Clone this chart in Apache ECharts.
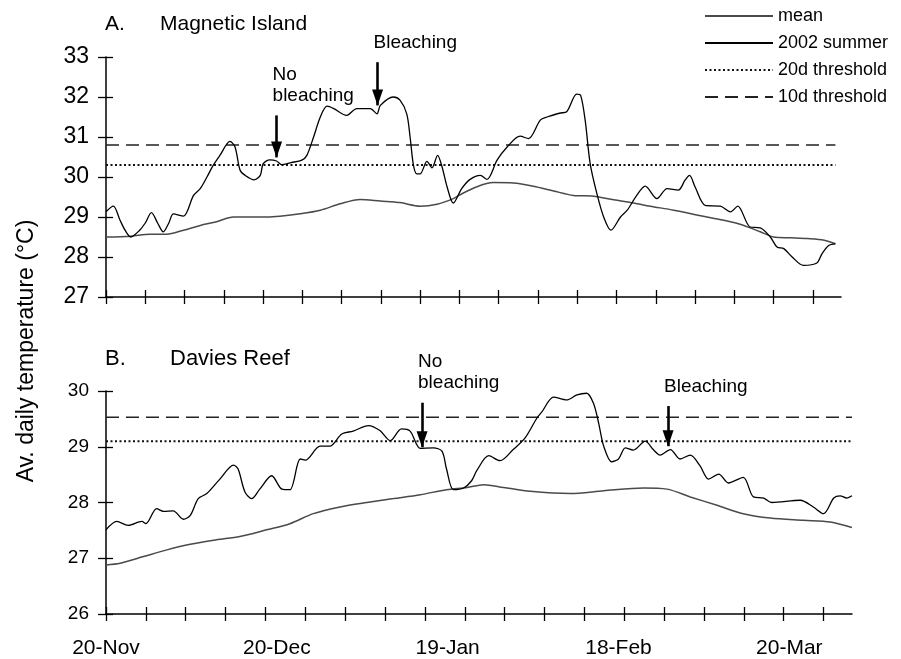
<!DOCTYPE html>
<html>
<head>
<meta charset="utf-8">
<title>Av. daily temperature — Magnetic Island and Davies Reef</title>
<script src="https://cdn.jsdelivr.net/npm/echarts@6/dist/echarts.min.js"></script>
<style>
  html, body { margin: 0; padding: 0; background: #fff; }
  #chart { width: 901px; height: 659px; }
</style>
</head>
<body>
<div id="chart"></div>
<script>
// Day index 0 = 20-Nov; one category per day through the end of March.
const dayMax = 131;
const weekStep = 7;
const dateLabels = ['20-Nov', '20-Dec', '19-Jan', '18-Feb', '20-Mar'];
const labelStep = 30;

// A. Magnetic Island — [day, °C]
const magneticSummer = [
  [0, 29.13], [1.3, 29.27], [2.5, 28.92], [3.4, 28.67], [4.4, 28.5], [6, 28.67], [7, 28.85],
  [8.1, 29.11], [9.2, 28.85], [10.2, 28.63], [11.2, 28.85], [12, 29.08], [13.8, 29.02],
  [15.6, 29.54], [16.8, 29.71], [18, 30.0], [19.1, 30.29], [20.3, 30.54], [22.1, 30.89],
  [23, 30.75], [23.9, 30.17], [24.8, 30.04], [26.4, 29.93], [27.5, 30.04], [28, 30.33],
  [29.2, 30.43], [30.4, 30.4], [31.3, 30.31], [33, 30.36], [34.9, 30.42], [35.8, 30.54],
  [37, 31.0], [38.2, 31.5], [39.4, 31.77], [40.6, 31.71], [42.9, 31.54], [44.7, 31.71],
  [47.1, 31.71], [48.3, 31.58], [48.9, 31.79], [51.2, 32.0], [52.4, 31.92], [53.6, 31.58],
  [54.2, 31.0], [54.8, 30.29], [55.4, 30.08], [56, 30.08], [57.2, 30.39], [58.1, 30.23],
  [59.1, 30.54], [59.9, 30.25], [60.8, 29.75], [61.9, 29.35], [63.4, 29.71], [64.9, 29.94],
  [66.7, 30.04], [67.9, 29.94], [69.7, 30.42], [71.5, 30.75], [73.8, 31.02], [75.3, 30.96],
  [77.4, 31.42], [78.6, 31.5], [81, 31.6], [82.1, 31.63], [83.9, 32.07], [84.6, 32.04],
  [85.4, 31.42], [86.3, 30.33], [87.5, 29.58], [88.7, 29.0], [90, 28.67], [91.7, 29.0],
  [92.9, 29.17], [94.6, 29.54], [96.1, 29.77], [98.2, 29.46], [100, 29.71], [102, 29.67],
  [103.2, 29.92], [104, 30.04], [105, 29.75], [106.8, 29.29], [109.5, 29.27], [111.3, 29.13],
  [112.6, 29.27], [114.8, 28.75], [116.6, 28.73], [118.4, 28.5], [119.6, 28.25], [120.8, 28.21],
  [122.3, 28.0], [124.3, 27.79], [126.7, 27.85], [127.6, 28.08], [128.8, 28.29], [130, 28.33]
];
const magneticMean = [
  [0, 28.5], [4.4, 28.52], [7.8, 28.57], [10.8, 28.57], [13.8, 28.67], [16.8, 28.79],
  [19.7, 28.88], [22.7, 29.0], [28.7, 29.0], [31, 29.02], [34.6, 29.08], [38.2, 29.17],
  [41.7, 29.33], [45.3, 29.44], [48.9, 29.4], [52.4, 29.36], [56, 29.27], [59, 29.32],
  [61.9, 29.46], [63, 29.55], [66, 29.75], [69, 29.86], [72.6, 29.85], [76.2, 29.77],
  [79.8, 29.65], [83.3, 29.54], [86.9, 29.52], [90.5, 29.43], [94, 29.35], [97, 29.27],
  [101.2, 29.17], [107.1, 29.0], [113, 28.82], [116.6, 28.63], [119, 28.5], [122, 28.48],
  [125, 28.46], [128, 28.42], [130, 28.33]
];
const magneticThreshold20d = [[0, 30.3], [130, 30.3]];
const magneticThreshold10d = [[0, 30.8], [130, 30.8]];

// B. Davies Reef — [day, °C]
const daviesSummer = [
  [0, 27.51], [1.9, 27.66], [3.9, 27.59], [6.3, 27.66], [7, 27.62], [8.9, 27.89], [10.1, 27.84],
  [11.8, 27.85], [13.6, 27.7], [14.8, 27.77], [16.2, 28.07], [17.7, 28.16], [20, 28.42],
  [22.4, 28.67], [23.2, 28.6], [24.4, 28.19], [25.6, 28.07], [27, 28.24], [29.1, 28.48],
  [30.9, 28.24], [32.3, 28.23], [34.1, 28.78], [35, 28.76], [37.6, 29.01], [39.3, 29.01],
  [41.4, 29.23], [43.4, 29.28], [46.1, 29.38], [48.1, 29.29], [49.9, 29.11], [51.9, 29.32],
  [53.4, 29.28], [55.2, 28.97], [57.5, 28.98], [59, 28.92], [59.8, 28.6], [61, 28.23],
  [62.8, 28.26], [64.2, 28.39], [65.1, 28.57], [67.2, 28.84], [69.2, 28.75], [71.5, 28.95],
  [73.6, 29.16], [75.7, 29.52], [76.5, 29.62], [78.6, 29.89], [80.9, 29.84], [82.7, 29.93],
  [84.4, 29.96], [85.6, 29.78], [86.5, 29.43], [87.4, 29.01], [88.8, 28.73], [90, 28.78],
  [91.2, 28.98], [92.6, 28.94], [94.7, 29.1], [96.1, 28.95], [97.3, 28.85], [99.1, 28.95],
  [100.8, 28.78], [102.6, 28.85], [104.3, 28.66], [105.8, 28.42], [107.6, 28.51], [109.3, 28.35],
  [111.9, 28.45], [113.7, 28.1], [115.5, 28.08], [116.9, 28.0], [121.9, 28.04], [124.2, 27.92],
  [126, 27.8], [127.8, 28.08], [128.9, 28.12], [130.1, 28.08], [131, 28.12]
];
const daviesMean = [
  [0, 26.88], [2.5, 26.91], [6.6, 27.03], [10.7, 27.15], [14.8, 27.25], [19.4, 27.33],
  [23.5, 27.39], [28.2, 27.51], [32.3, 27.62], [36.4, 27.8], [41.1, 27.92], [45.8, 28.0],
  [50.5, 28.07], [55.2, 28.14], [59.8, 28.23], [63.4, 28.27], [66.3, 28.32], [69.8, 28.27],
  [74.5, 28.2], [81.5, 28.16], [87.4, 28.21], [94.4, 28.26], [98.5, 28.24], [102.6, 28.1],
  [107.3, 27.95], [111.9, 27.8], [116.6, 27.72], [122.5, 27.68], [127.2, 27.65], [131, 27.55]
];
const daviesThreshold20d = [[0, 29.1], [131, 29.1]];
const daviesThreshold10d = [[0, 29.53], [131, 29.53]];

// Arrow annotations: each arrow runs from `from` down to its tip at `to`.
const magneticNotes = [
  { text: 'No\nbleaching', day: 30.4, from: 31.54, to: 30.49 },
  { text: 'Bleaching', day: 48.4, from: 32.87, to: 31.79 }
];
const daviesNotes = [
  { text: 'No\nbleaching', day: 55.5, from: 29.79, to: 28.99 },
  { text: 'Bleaching', day: 98.7, from: 29.73, to: 29.01 }
];

const FONT = '"Liberation Sans", Arial, Helvetica, sans-serif';
const weekTicks = [];
for (let d = 0; d <= dayMax - 5; d += weekStep) weekTicks.push(d);
const labelDays = dateLabels.map((_, i) => i * labelStep);

function xPair(grid, withLabels) {
  const base = {
    type: 'value', gridIndex: grid, min: 0, max: dayMax, position: 'bottom', offset: 0,
    splitLine: { show: false }
  };
  return [
    Object.assign({}, base, {
      axisLine: { show: true, lineStyle: { color: '#000', width: 1.5 } },
      axisTick: { show: true, customValues: weekTicks, length: 7, lineStyle: { color: '#000', width: 1.3 } },
      axisLabel: withLabels ? {
        show: true, customValues: labelDays, margin: 24, color: '#000',
        fontFamily: FONT, fontSize: 21,
        formatter: v => dateLabels[Math.round(v / labelStep)]
      } : { show: false }
    }),
    Object.assign({}, base, {
      axisLine: { show: false },
      axisTick: { show: true, inside: true, customValues: weekTicks, length: 7, lineStyle: { color: '#000', width: 1.3 } },
      axisLabel: { show: false }
    })
  ];
}

function yPair(grid, min, max, fontSize) {
  const base = {
    type: 'value', gridIndex: grid, min: min, max: max, interval: 1, position: 'left', offset: 0,
    splitLine: { show: false }
  };
  return [
    Object.assign({}, base, {
      axisLine: { show: true, lineStyle: { color: '#000', width: 1.5 } },
      axisTick: { show: true, length: 8, lineStyle: { color: '#000', width: 1.3 } },
      axisLabel: { show: true, margin: 17, color: '#000', fontFamily: FONT, fontSize: fontSize }
    }),
    Object.assign({}, base, {
      axisLine: { show: false },
      axisTick: { show: true, inside: true, length: 7, lineStyle: { color: '#000', width: 1.3 } },
      axisLabel: { show: false }
    })
  ];
}

// Arrow heads and their captions, anchored on each arrow's tip and top.
function noteMarks(notes) {
  const heads = notes.map(n => ({
    coord: [n.day, n.to],
    symbol: 'triangle', symbolSize: [11, 16], symbolRotate: 180, symbolOffset: [0, -8],
    itemStyle: { color: '#000' },
    label: { show: false }
  }));
  const captions = notes.map(n => ({
    coord: [n.day, n.from],
    symbol: 'circle', symbolSize: 0,
    itemStyle: { color: 'rgba(0,0,0,0)' },
    label: {
      show: true, position: 'inside', formatter: n.text, align: 'left', verticalAlign: 'bottom',
      offset: [-4, -9], color: '#000', fontFamily: FONT, fontSize: 19, lineHeight: 21
    }
  }));
  return heads.concat(captions);
}

function panelSeries(xi, yi, mean, summer, t20, t10, notes) {
  const lineBase = { type: 'line', xAxisIndex: xi, yAxisIndex: yi, symbol: 'none', animation: false };
  return [
    Object.assign({}, lineBase, {
      name: 'mean', data: mean, smooth: 0.3, z: 3,
      lineStyle: { color: '#4a4a4a', width: 1.5 }, itemStyle: { color: '#4a4a4a' }
    }),
    Object.assign({}, lineBase, {
      name: '2002 summer', data: summer, smooth: 0.3, z: 4,
      lineStyle: { color: '#000', width: 1.3 }, itemStyle: { color: '#000' },
      markLine: {
        silent: true, animation: false, symbol: 'none',
        lineStyle: { color: '#000', width: 2.6, type: 'solid' },
        label: { show: false },
        data: notes.map(n => [{ coord: [n.day, n.from] }, { coord: [n.day, n.to] }])
      },
      markPoint: { silent: true, animation: false, data: noteMarks(notes) }
    }),
    Object.assign({}, lineBase, {
      name: '20d threshold', data: t20, z: 2,
      lineStyle: { color: '#111', width: 2, type: [2, 2.5] }, itemStyle: { color: '#111' }
    }),
    Object.assign({}, lineBase, {
      name: '10d threshold', data: t10, z: 2,
      lineStyle: { color: '#222', width: 1.5, type: [13, 7] }, itemStyle: { color: '#222' }
    })
  ];
}

const chart = echarts.init(document.getElementById('chart'), null, { renderer: 'canvas' });

const titleStyle = size => ({ fontFamily: FONT, fontSize: size, fontWeight: 'normal', color: '#000' });

chart.setOption({
  animation: false,
  backgroundColor: '#fff',
  textStyle: { fontFamily: FONT },
  title: [
    { text: 'A.', left: 100, top: 9, textStyle: titleStyle(21) },
    { text: 'Magnetic Island', left: 155, top: 9, textStyle: titleStyle(21) },
    { text: 'B.', left: 100, top: 343, textStyle: titleStyle(22) },
    { text: 'Davies Reef', left: 165, top: 343, textStyle: titleStyle(22) }
  ],
  legend: {
    orient: 'vertical', left: 699, top: 2,
    itemWidth: 68, itemHeight: 12, itemGap: 9,
    itemStyle: { color: 'rgba(0,0,0,0)', borderColor: 'rgba(0,0,0,0)', borderWidth: 0, opacity: 0 },
    textStyle: { fontFamily: FONT, fontSize: 18, color: '#000' },
    data: ['mean', '2002 summer', '20d threshold', '10d threshold']
  },
  grid: [
    { left: 106, top: 57, right: 60, height: 240, containLabel: false },
    { left: 106, top: 391, right: 49, height: 226, containLabel: false }
  ],
  xAxis: [].concat(xPair(0, false), xPair(1, true)),
  yAxis: [].concat(yPair(0, 27, 33, 23), yPair(1, 26, 30, 19)),
  graphic: [{
    type: 'text', x: 27, y: 351, rotation: Math.PI / 2,
    style: {
      text: 'Av. daily temperature (°C)', fill: '#000',
      font: '23px ' + FONT, textAlign: 'center', textVerticalAlign: 'middle'
    }
  }],
  series: [].concat(
    panelSeries(0, 0, magneticMean, magneticSummer, magneticThreshold20d, magneticThreshold10d, magneticNotes),
    panelSeries(2, 2, daviesMean, daviesSummer, daviesThreshold20d, daviesThreshold10d, daviesNotes)
  )
});
</script>
</body>
</html>
